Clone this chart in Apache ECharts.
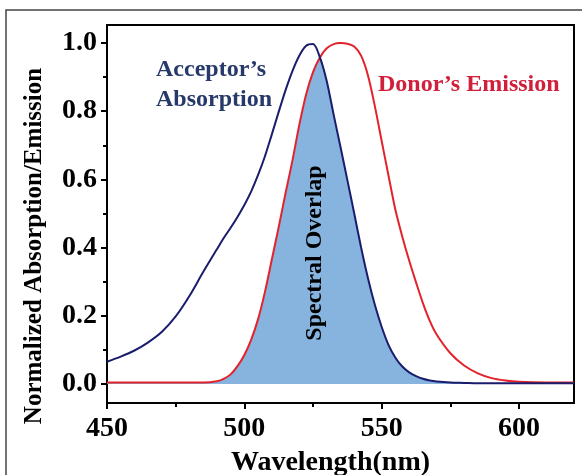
<!DOCTYPE html>
<html>
<head>
<meta charset="utf-8">
<script src="https://cdn.jsdelivr.net/npm/echarts@6/dist/echarts.min.js"></script>
<style>
html,body{margin:0;padding:0;background:#fff;}
#c{width:582px;height:475px;}
</style>
</head>
<body>
<div id="c"></div>
<script>
// Wavelength grid (nm)
const wavelengths = [450,455,460,465,470,475,480,485,490,492.5,495,497.5,500,502.5,505,507.5,510,512.5,515,517.5,520,522.5,525,527.5,530,532.5,535,537.5,540,542.5,545,547.5,550,552.5,555,557.5,560,562.5,565,567.5,570,575,580,585,590,595,600,610,620];
// Acceptor's absorption (normalized)
const absorption = [0.065,0.08,0.098,0.122,0.153,0.198,0.258,0.328,0.395,0.428,0.458,0.49,0.525,0.565,0.613,0.668,0.732,0.798,0.862,0.918,0.963,0.992,0.997,0.958,0.888,0.79,0.695,0.598,0.50,0.40,0.31,0.232,0.167,0.114,0.077,0.051,0.034,0.023,0.015,0.01,0.007,0.004,0.003,0.002,0.002,0.002,0.002,0.002,0.002];
// Donor's emission (normalized)
const emission = [0.004,0.004,0.004,0.004,0.004,0.004,0.004,0.004,0.008,0.015,0.028,0.052,0.085,0.13,0.19,0.27,0.365,0.46,0.56,0.655,0.76,0.85,0.915,0.958,0.985,0.997,1.0,0.998,0.99,0.963,0.905,0.815,0.712,0.61,0.51,0.432,0.362,0.298,0.237,0.185,0.145,0.09,0.054,0.031,0.017,0.01,0.006,0.004,0.004];
// Axis ticks
const xMajor = [450,500,550,600];
const xMinor = [475,525,575];
const yMajor = [0,0.2,0.4,0.6,0.8,1.0];
const yMinor = [0.1,0.3,0.5,0.7,0.9];

const FONT = "'Liberation Serif','Times New Roman',serif";
const absData = wavelengths.map((w,i)=>[w,absorption[i]]);
const emData = wavelengths.map((w,i)=>[w,emission[i]]);
const overlapData = wavelengths.map((w,i)=>[w,Math.min(absorption[i],emission[i])]);

const chart = echarts.init(document.getElementById('c'), null, {renderer:'canvas'});
const X = {min:450,max:620};
const Y = {min:-0.056,max:1.053};
chart.setOption({
  backgroundColor:'#fff',
  animation:false,
  grid:{left:107,right:8,top:25,bottom:72,show:true,borderColor:'#000',borderWidth:2,backgroundColor:'transparent',
        outerBoundsMode:'none',containLabel:false},
  xAxis:[
    {type:'value',min:X.min,max:X.max,position:'bottom',
     axisLine:{show:true,onZero:false,lineStyle:{color:'#000',width:2}},
     axisTick:{show:true,length:6,customValues:xMajor,lineStyle:{color:'#000',width:2}},
     axisLabel:{customValues:xMajor,fontFamily:FONT,fontWeight:'bold',fontSize:28,color:'#000',margin:12},
     splitLine:{show:false},
     name:'Wavelength(nm)',nameLocation:'middle',nameGap:46,
     nameTextStyle:{fontFamily:FONT,fontWeight:'bold',fontSize:28,color:'#000',padding:[0,20,0,0]}},
    {type:'value',min:X.min,max:X.max,position:'bottom',
     axisLine:{show:false,onZero:false},
     axisTick:{show:true,length:4,customValues:xMinor,lineStyle:{color:'#000',width:2}},
     axisLabel:{show:false},splitLine:{show:false}}
  ],
  yAxis:[
    {type:'value',min:Y.min,max:Y.max,position:'left',
     axisLine:{show:true,onZero:false,lineStyle:{color:'#000',width:2}},
     axisTick:{show:true,length:6,customValues:yMajor,lineStyle:{color:'#000',width:2}},
     axisLabel:{customValues:yMajor,formatter:v=>v.toFixed(1),fontFamily:FONT,fontWeight:'bold',fontSize:28,color:'#000',margin:10},
     splitLine:{show:false},
     name:'Normalized Absorption/Emission',nameLocation:'middle',nameGap:60,
     nameTextStyle:{fontFamily:FONT,fontWeight:'bold',fontSize:25,color:'#000',padding:[0,64,0,0]}},
    {type:'value',min:Y.min,max:Y.max,position:'left',
     axisLine:{show:false,onZero:false},
     axisTick:{show:true,length:4,customValues:yMinor,lineStyle:{color:'#000',width:2}},
     axisLabel:{show:false},splitLine:{show:false}}
  ],
  series:[
    {name:'Spectral Overlap',type:'line',data:overlapData,smooth:0.3,showSymbol:false,
     lineStyle:{width:0},areaStyle:{color:'#87b3df',opacity:1,origin:0},z:1},
    {name:"Acceptor's Absorption",type:'line',data:absData,smooth:0.3,showSymbol:false,
     lineStyle:{color:'#1a1c6c',width:2},z:3},
    {name:"Donor's Emission",type:'line',data:emData,smooth:0.3,showSymbol:false,
     lineStyle:{color:'#e3232b',width:2},z:2}
  ],
  graphic:[
    {type:'rect',z:-1,silent:true,shape:{x:6,y:10,width:600,height:500},style:{fill:null,stroke:'#444',lineWidth:1.5}},
    {type:'text',z:100,x:156,y:70,style:{text:'Acceptor’s',font:"bold 24px "+FONT,fill:'#27386a',textAlign:'left',textVerticalAlign:'middle'}},
    {type:'text',z:100,x:156,y:100,style:{text:'Absorption',font:"bold 24px "+FONT,fill:'#27386a',textAlign:'left',textVerticalAlign:'middle'}},
    {type:'text',z:100,x:378,y:85,style:{text:'Donor’s Emission',font:"bold 24px "+FONT,fill:'#d0203c',textAlign:'left',textVerticalAlign:'middle'}},
    {type:'text',z:100,x:315,y:253,rotation:Math.PI/2,style:{text:'Spectral Overlap',font:"bold 24px "+FONT,fill:'#000',textAlign:'center',textVerticalAlign:'middle'}}
  ]
});
</script>
</body>
</html>
